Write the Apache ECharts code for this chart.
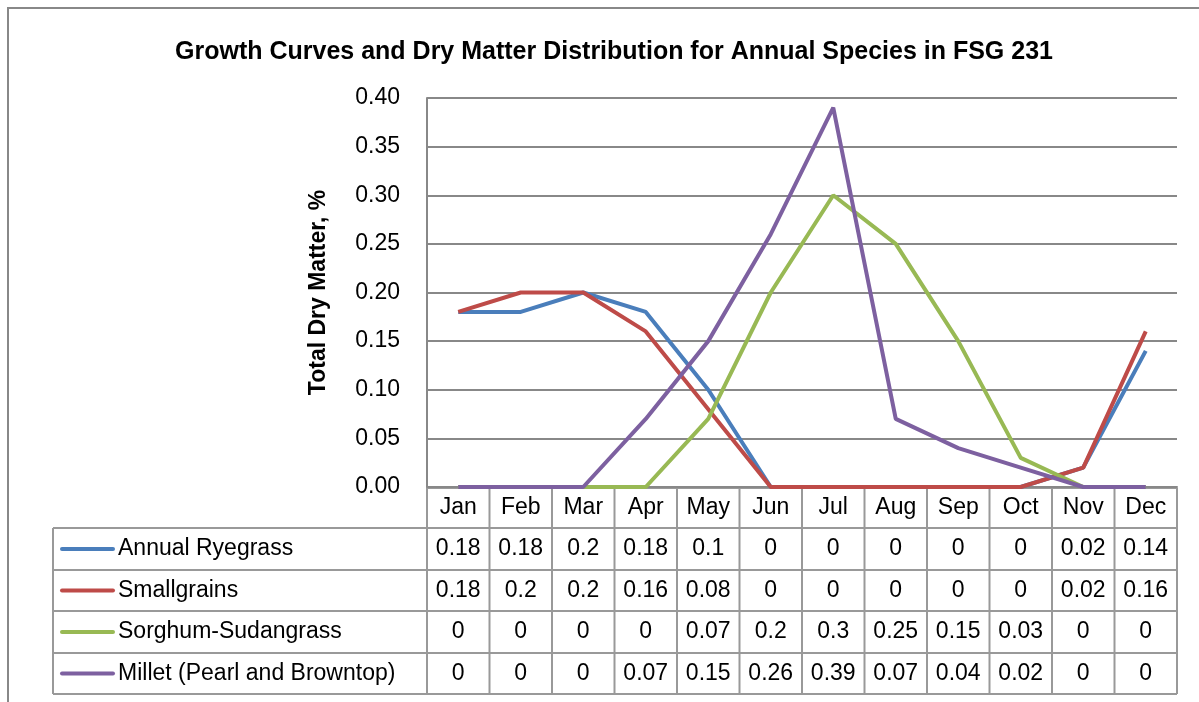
<!DOCTYPE html>
<html>
<head>
    <meta charset="utf-8">
    <title>Growth Curves</title>
    <script src="https://cdn.jsdelivr.net/npm/echarts@6/dist/echarts.min.js"></script>
    <style>
        body { margin: 0; background: #fff; }
    </style>
</head>
<body>
    <div id="main" style="width: 1199px;height:702px;"></div>
    <script type="text/javascript">
        var months = ['Jan', 'Feb', 'Mar', 'Apr', 'May', 'Jun', 'Jul', 'Aug', 'Sep', 'Oct', 'Nov', 'Dec'];
        var seriesNames = ['Annual Ryegrass', 'Smallgrains', 'Sorghum-Sudangrass', 'Millet (Pearl and Browntop)'];
        var ryegrass = [0.18, 0.18, 0.2, 0.18, 0.1, 0, 0, 0, 0, 0, 0.02, 0.14];
        var smallgrains = [0.18, 0.2, 0.2, 0.16, 0.08, 0, 0, 0, 0, 0, 0.02, 0.16];
        var sorghum = [0, 0, 0, 0, 0.07, 0.2, 0.3, 0.25, 0.15, 0.03, 0, 0];
        var millet = [0, 0, 0, 0.07, 0.15, 0.26, 0.39, 0.07, 0.04, 0.02, 0, 0];
        var colors = ['#4a7ebb', '#be4b48', '#98b954', '#7d60a0'];

        var allData = [ryegrass, smallgrains, sorghum, millet];
        var font = 'Liberation Sans, Arial, sans-serif';
        var cellFont = '23px ' + font;

        var myChart = echarts.init(document.getElementById('main'));

        var series = [];
        for (var s = 0; s < allData.length; s++) {
            series.push({
                name: seriesNames[s],
                type: 'line',
                data: allData[s],
                symbol: 'none',
                lineStyle: { width: 4, color: colors[s] },
                itemStyle: { color: colors[s] }
            });
        }

        var option = {
            animation: false,
            title: {
                text: 'Growth Curves and Dry Matter Distribution for Annual Species in FSG 231',
                left: 609,
                top: 35,
                textAlign: 'center',
                textStyle: { fontFamily: font, fontSize: 25, fontWeight: 'bold', color: '#000' }
            },
            grid: { left: 427, right: 22, top: 98, bottom: 215 },
            xAxis: {
                type: 'category',
                data: months,
                boundaryGap: true,
                axisLine: { lineStyle: { color: '#888', width: 2 } },
                axisTick: { show: false },
                axisLabel: { show: false }
            },
            yAxis: {
                type: 'value',
                min: 0,
                max: 0.4,
                interval: 0.05,
                name: 'Total Dry Matter, %',
                nameLocation: 'middle',
                nameGap: 97,
                nameTextStyle: { fontFamily: font, fontSize: 23, fontWeight: 'bold', color: '#000' },
                axisLine: { show: true, lineStyle: { color: '#888', width: 2 } },
                axisTick: { show: false },
                splitLine: { lineStyle: { color: '#888', width: 2 } },
                axisLabel: {
                    margin: 27,
                    fontFamily: font,
                    fontSize: 23,
                    color: '#000',
                    formatter: function (v) { return v.toFixed(2); }
                }
            },
            series: series
        };

        myChart.setOption(option);

        // data table under the plot, columns follow the category axis
        var rowY = [488, 528, 570, 611, 653, 694];
        var tableLeft = 53;
        var c0 = myChart.convertToPixel({ xAxisIndex: 0 }, 0);
        var c1 = myChart.convertToPixel({ xAxisIndex: 0 }, 1);
        var step = c1 - c0;
        var colLeft = c0 - step / 2;
        var colRight = colLeft + step * months.length;
        var lineCol = '#999';
        var elements = [];

        // outer chart frame
        elements.push({
            type: 'polyline',
            shape: { points: [[8, 710], [8, 8], [1210, 8]] },
            style: { stroke: '#888', lineWidth: 2, fill: null }
        });

        // horizontal rules
        for (var r = 0; r < rowY.length; r++) {
            var x1 = r === 0 ? colLeft : tableLeft;
            elements.push({
                type: 'line',
                shape: { x1: x1, y1: rowY[r], x2: colRight, y2: rowY[r] },
                style: { stroke: lineCol, lineWidth: 2 }
            });
        }
        // vertical rules
        elements.push({
            type: 'line',
            shape: { x1: tableLeft, y1: rowY[1], x2: tableLeft, y2: rowY[5] },
            style: { stroke: lineCol, lineWidth: 2 }
        });
        for (var i = 0; i <= months.length; i++) {
            var xx = colLeft + step * i;
            elements.push({
                type: 'line',
                shape: { x1: xx, y1: rowY[0], x2: xx, y2: rowY[5] },
                style: { stroke: lineCol, lineWidth: 2 }
            });
        }

        // header row
        for (var m = 0; m < months.length; m++) {
            elements.push({
                type: 'text',
                style: {
                    text: months[m],
                    x: myChart.convertToPixel({ xAxisIndex: 0 }, m),
                    y: (rowY[0] + rowY[1]) / 2,
                    textAlign: 'center',
                    textVerticalAlign: 'middle',
                    font: cellFont,
                    fill: '#000'
                }
            });
        }

        // series rows
        for (var s2 = 0; s2 < allData.length; s2++) {
            var cy = (rowY[s2 + 1] + rowY[s2 + 2]) / 2;
            elements.push({
                type: 'line',
                shape: { x1: 62, y1: cy, x2: 113, y2: cy },
                style: { stroke: colors[s2], lineWidth: 4, lineCap: 'round' }
            });
            elements.push({
                type: 'text',
                style: {
                    text: seriesNames[s2],
                    x: 118,
                    y: cy,
                    textAlign: 'left',
                    textVerticalAlign: 'middle',
                    font: cellFont,
                    fill: '#000'
                }
            });
            for (var m2 = 0; m2 < months.length; m2++) {
                elements.push({
                    type: 'text',
                    style: {
                        text: String(allData[s2][m2]),
                        x: myChart.convertToPixel({ xAxisIndex: 0 }, m2),
                        y: cy,
                        textAlign: 'center',
                        textVerticalAlign: 'middle',
                        font: cellFont,
                        fill: '#000'
                    }
                });
            }
        }

        myChart.setOption({ graphic: { elements: elements } });
    </script>
</body>
</html>
